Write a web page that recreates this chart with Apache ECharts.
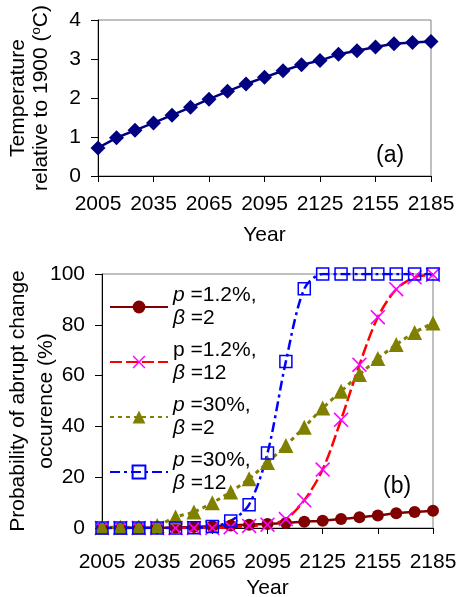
<!DOCTYPE html>
<html><head><meta charset="utf-8">
<script src="https://cdn.jsdelivr.net/npm/echarts@6/dist/echarts.min.js"></script>
<style>html,body{margin:0;padding:0;background:#fff}#c{width:456px;height:597px}</style>
</head><body><div id="c"></div>
<script>
// ---- data ----
const years = ['2005','2015','2025','2035','2045','2055','2065','2075','2085','2095','2105','2115','2125','2135','2145','2155','2165','2175','2185'];
const temperature = [0.72,0.98,1.17,1.36,1.56,1.76,1.97,2.17,2.36,2.53,2.70,2.85,2.96,3.12,3.21,3.31,3.39,3.42,3.45];
const probP12B2  = [0,0,0.1,0.1,0.2,0.4,0.7,1.0,1.3,1.6,2.0,2.5,2.9,3.5,4.2,4.9,5.8,6.3,6.8];
const probP12B12 = [0,0,0,0,0,0,0,0.3,0.8,1.3,3.5,10.9,23,42.6,64.3,83,94,98.7,99.7];
const probP30B2  = [0.3,0.3,0.4,1.0,4.3,6.3,9.9,14.2,19.4,25.8,32.5,39.7,47.2,53.8,60.4,66.7,72.2,77,80.7];
const probP30B12 = [0,0,0,0,0,0.1,0.6,2.8,9.2,29.5,65.6,94.2,100,100,100,100,100,100,100];
const seriesNames = ['p=1.2%, β=2','p=1.2%, β=12','p=30%, β=2','p=30%, β=12'];
const legendP = ['1.2%','1.2%','30%','30%'];
const legendBeta = ['2','12','2','12'];
const legendPItalic = [true,false,true,true];

const FONT = "'Liberation Sans', Arial, sans-serif";
const FS = 21;
const xPath = 'path://M0,1.5L1.5,0L10,8.5L18.5,0L20,1.5L11.5,10L20,18.5L18.5,20L10,11.5L1.5,20L0,18.5L8.5,10Z';

const chart = echarts.init(document.getElementById('c'), null, {renderer:'canvas'});
const txt = {color:'#000', fontFamily:FONT, fontSize:FS};

function xAxisCfg(gi, gap, margin){
  return {
    type:'category', gridIndex:gi, data:years, boundaryGap:false,
    name:'Year', nameLocation:'middle', nameGap:gap, nameMoveOverlap:false,
    nameTextStyle:Object.assign({}, txt),
    axisLine:{lineStyle:{color:'#000', width:1}},
    axisTick:{interval:2, length:6, lineStyle:{color:'#000'}},
    axisLabel:Object.assign({interval:2, margin:margin}, txt),
    splitLine:{show:false}
  };
}

const option = {
  animation:false,
  backgroundColor:'#fff',
  textStyle:{fontFamily:FONT},
  grid:[
    {left:98, top:20, width:333, height:156, show:true, borderColor:'#808080', borderWidth:1, containLabel:false, outerBoundsMode:'none'},
    {left:102, top:274, width:331, height:254, show:true, borderColor:'#808080', borderWidth:1, containLabel:false, outerBoundsMode:'none'}
  ],
  xAxis:[ xAxisCfg(0, 49, 18), xAxisCfg(1, 50, 24) ],
  yAxis:[
    {type:'value', gridIndex:0, min:0, max:4, interval:1,
     name:'Temperature\nrelative to 1900 ({sup|o}C)', nameLocation:'middle', nameGap:45, nameMoveOverlap:false,
     nameTextStyle:Object.assign({lineHeight:23, rich:{sup:{fontSize:13, fontFamily:FONT, color:'#000', verticalAlign:'top', lineHeight:23}}}, txt),
     axisLine:{show:true, lineStyle:{color:'#000'}},
     axisTick:{show:true, length:7, lineStyle:{color:'#000'}},
     axisLabel:Object.assign({margin:17}, txt),
     splitLine:{show:false}},
    {type:'value', gridIndex:1, min:0, max:100, interval:20,
     name:'Probability of abrupt change\noccurence (%)', nameLocation:'middle', nameGap:42, nameMoveOverlap:false,
     nameTextStyle:Object.assign({lineHeight:28}, txt),
     axisLine:{show:true, lineStyle:{color:'#000'}},
     axisTick:{show:true, length:7, lineStyle:{color:'#000'}},
     axisLabel:Object.assign({margin:17}, txt),
     splitLine:{show:false}}
  ],
  legend:{
    data:seriesNames, orient:'vertical', left:109, top:284, padding:0,
    itemWidth:58, itemHeight:16, itemGap:9,
    formatter:function(name){
      const i = seriesNames.indexOf(name);
      const p = legendPItalic[i] ? '{it|p}' : '{n|p}';
      return p + '{n| =' + legendP[i] + ',}\n{it|β}{n| =' + legendBeta[i] + '}';
    },
    textStyle:{fontFamily:FONT, fontSize:FS, color:'#000', lineHeight:23,
      rich:{
        it:{fontStyle:'italic', fontFamily:FONT, fontSize:FS, color:'#000', lineHeight:23},
        n:{fontFamily:FONT, fontSize:FS, color:'#000', lineHeight:23}
      }}
  },
  graphic:[
    {type:'text', left:376, top:144, style:{text:'(a)', font:'23px '+FONT, fill:'#000'}},
    {type:'text', left:383, top:475, style:{text:'(b)', font:'23px '+FONT, fill:'#000'}}
  ],
  series:[
    {type:'line', xAxisIndex:0, yAxisIndex:0, data:temperature, name:'Temperature',
     showAllSymbol:true, symbol:'diamond', symbolSize:15, lineStyle:{color:'#000080', width:2.5},
     itemStyle:{color:'#000080'}},
    {type:'line', xAxisIndex:1, yAxisIndex:1, data:probP12B2, name:seriesNames[0],
     showAllSymbol:true, smooth:0.3, symbol:'circle', symbolSize:12,
     lineStyle:{color:'#800000', width:2.5}, itemStyle:{color:'#800000'}},
    {type:'line', xAxisIndex:1, yAxisIndex:1, data:probP12B12, name:seriesNames[1],
     showAllSymbol:true, smooth:0.3, symbol:xPath, symbolSize:15,
     lineStyle:{color:'#FF0000', width:2.5, type:[12,4]}, itemStyle:{color:'#FF00FF'}},
    {type:'line', xAxisIndex:1, yAxisIndex:1, data:probP30B2, name:seriesNames[2],
     showAllSymbol:true, smooth:0.3, symbol:'triangle', symbolSize:15,
     lineStyle:{color:'#808000', width:3, type:[4,4]}, itemStyle:{color:'#808000'}},
    {type:'line', xAxisIndex:1, yAxisIndex:1, data:probP30B12, name:seriesNames[3],
     showAllSymbol:true, smooth:0.3, symbol:'rect', symbolSize:12,
     lineStyle:{color:'#0000FF', width:2.5, type:[10,4,3,4]},
     itemStyle:{color:'rgba(255,255,255,0)', borderColor:'#0000FF', borderWidth:1.5}}
  ]
};
chart.setOption(option);
</script>
</body></html>
